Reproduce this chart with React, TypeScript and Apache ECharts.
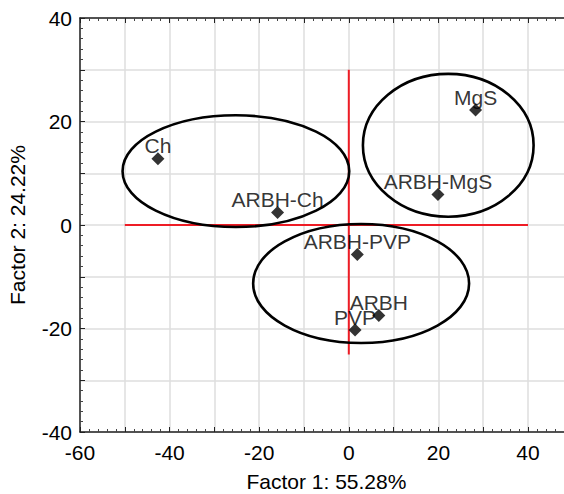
import React, { useEffect, useRef } from "react";
import * as echarts from "echarts";

const pointNames = ["Ch", "ARBH-Ch", "MgS", "ARBH-MgS", "ARBH-PVP", "ARBH", "PVP"];
const factor1 = [-42.6, -15.9, 28.3, 19.9, 1.9, 6.7, 1.4];
const factor2 = [12.8, 2.4, 22.2, 5.9, -5.7, -17.5, -20.3];

const ellipseCx = [-25.2, 22.2, 2.75];
const ellipseCy = [10.4, 15.4, -11.3];
const ellipseRx = [25.3, 19.05, 24.1];
const ellipseRy = [10.8, 13.8, 11.5];

const hLine = [[-50, 0], [40, 0]];
const vLine = [[0, 30], [0, -25]];

const xTitle = "Factor 1: 55.28%";
const yTitle = "Factor 2: 24.22%";

const FONT = "'Liberation Sans', Arial, sans-serif";

export default function App() {
  const ref = useRef<HTMLDivElement>(null);
  useEffect(() => {
    if (!ref.current) return;
    const chart = echarts.init(ref.current, undefined, { renderer: "svg" });
    const labelFmt = (v: number) => (v % 20 === 0 ? String(v) : "");
    const gridColor = "#dedede";
    const axisCommon = {
      type: "value" as const,
      interval: 10,
      axisLine: { show: true, onZero: false, lineStyle: { color: "#222", width: 1.5 } },
      axisTick: { show: true, inside: true, length: 5, lineStyle: { color: "#222" } },
      minorTick: { show: true, splitNumber: 5, length: 3, lineStyle: { color: "#444" } },
      splitLine: { show: true, lineStyle: { color: gridColor, width: 1.5 } },
    };
    chart.setOption({
      animation: false,
      backgroundColor: "#fff",
      grid: {
        left: 80,
        top: 18,
        width: 492.8,
        height: 414,
        containLabel: false,
        outerBoundsMode: "none",
      },
      xAxis: [
        {
          ...axisCommon,
          position: "bottom",
          min: -60,
          max: 50,
          name: xTitle,
          nameLocation: "middle",
          nameGap: 39,
          nameMoveOverlap: false,
          nameTextStyle: { fontFamily: FONT, fontSize: 21, color: "#000", verticalAlign: "top" },
          axisLabel: { formatter: labelFmt, fontFamily: FONT, fontSize: 21, color: "#000", margin: 10 },
        },
        {
          ...axisCommon,
          position: "top",
          min: -60,
          max: 50,
          splitLine: { show: false },
          axisLabel: { show: false },
        },
      ],
      yAxis: [
        {
          ...axisCommon,
          position: "left",
          min: -40,
          max: 40,
          name: yTitle,
          nameLocation: "middle",
          nameGap: 52,
          nameMoveOverlap: false,
          nameTextStyle: { fontFamily: FONT, fontSize: 21, color: "#000" },
          axisLabel: { formatter: labelFmt, fontFamily: FONT, fontSize: 21, color: "#000", margin: 8 },
        },
      ],
      series: [
        {
          type: "custom",
          xAxisIndex: 0,
          yAxisIndex: 0,
          silent: true,
          z: 3,
          data: ellipseCx.map((cx, i) => [cx, ellipseCy[i], ellipseRx[i], ellipseRy[i]]),
          renderItem: (params: any, api: any) => {
            const c = api.coord([api.value(0), api.value(1)]);
            const s = api.size([api.value(2), api.value(3)]);
            return {
              type: "ellipse",
              shape: { cx: c[0], cy: c[1], rx: s[0], ry: s[1] },
              style: { fill: "none", stroke: "#000", lineWidth: 2.6 },
            };
          },
        },
        {
          type: "line",
          data: hLine,
          symbol: "none",
          lineStyle: { color: "#ee1c25", width: 2 },
          z: 2,
          silent: true,
        },
        {
          type: "line",
          data: vLine,
          symbol: "none",
          lineStyle: { color: "#ee1c25", width: 2 },
          z: 2,
          silent: true,
        },
        {
          type: "scatter",
          symbol: "diamond",
          symbolSize: 13,
          z: 5,
          itemStyle: { color: "#000" },
          data: pointNames.map((n, i) => ({ name: n, value: [factor1[i], factor2[i]] })),
          label: {
            show: true,
            position: "top",
            distance: -4,
            formatter: (p: any) => p.name,
            fontFamily: FONT,
            fontSize: 21,
            color: "#000",
          },
        },
      ],
    });
    return () => chart.dispose();
  }, []);
  return (
    <div
      ref={ref}
      style={{ position: "absolute", left: 0, top: 0, width: 564, height: 494, background: "#fff" }}
    />
  );
}
